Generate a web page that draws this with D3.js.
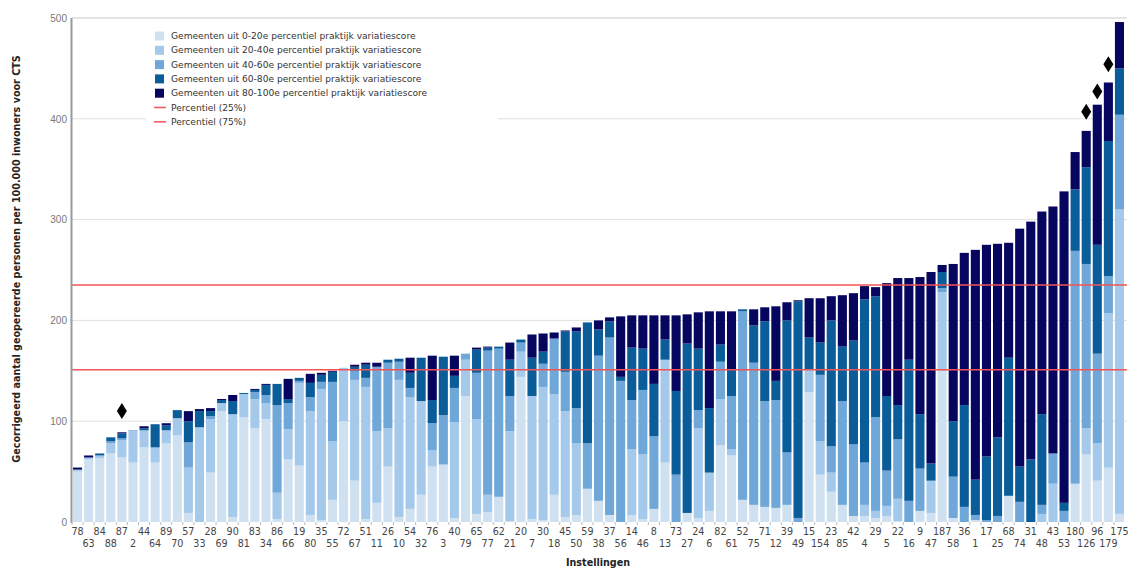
<!DOCTYPE html>
<html>
<head>
<meta charset="utf-8">
<script src="https://cdn.jsdelivr.net/npm/d3@7"></script>
<style>
    body { margin: 0; background: #fff; }
    svg { font-family: "DejaVu Sans", Verdana, sans-serif; }
    .tick text { fill: #777; font-size: 10px; }
    .xlab { fill: #444; font-size: 9.6px; text-anchor: middle; }
    .legend text { fill: #333; font-size: 9.1px; }
    .title { font-weight: bold; fill: #222; font-size: 9.6px; }
</style>
</head>
<body>
<div id="chart"></div>
<script>
// institution ids, in plotted order
let LABELS = [78,63,84,88,87,2,44,64,89,70,57,33,28,69,90,81,83,34,86,66,
    19,80,35,55,72,67,51,11,26,10,54,32,76,3,40,79,65,77,62,21,
    20,7,30,18,45,50,59,38,37,56,14,46,8,13,73,27,24,6,82,61,
    52,75,71,12,39,49,15,154,23,85,42,4,29,5,22,16,9,47,187,58,
    36,1,17,25,68,74,31,48,43,53,180,126,96,179,175];

// contribution per group of municipalities (0-20e ... 80-100e percentile)
let P0_20 = [50,62,63,68,64,59,74,59,78,86,9,0,49,110,5,104,93,102,3,62,
    56,7,2,22,100,41,3,19,55,5,13,27,55,57,4,125,8,10,25,1,
    144,3,2,27,5,7,33,21,7,0,7,3,13,59,0,9,4,11,76,66,
    22,17,15,14,17,0,129,47,30,17,6,6,4,6,1,0,11,9,150,4,
    0,2,0,0,26,0,0,0,0,0,38,67,41,54,8];
let P20_40 = [2,2,3,10,17,31,17,15,13,17,45,94,53,8,102,23,29,16,26,30,
    82,103,130,58,53,100,131,71,38,136,111,93,16,0,95,36,94,17,0,89,
    25,122,132,100,105,71,0,0,0,0,65,64,0,102,0,0,89,38,46,6,
    0,0,0,0,0,0,22,33,19,0,0,11,7,10,22,0,0,32,78,0,
    0,0,0,0,0,0,0,8,38,0,0,26,37,153,302];
let P40_60 = [0,0,0,2,2,1,0,0,0,0,25,0,3,0,0,0,7,8,87,26,
    2,14,7,59,0,9,9,64,65,18,9,0,27,49,34,6,46,143,147,35,
    9,0,23,55,39,35,45,144,176,140,49,64,72,0,47,0,18,0,37,53,
    187,141,105,107,52,4,0,66,26,103,71,42,93,35,59,21,42,0,4,41,
    15,5,2,6,0,20,0,9,30,11,231,163,89,37,94];
let P60_80 = [0,0,2,4,5,0,2,23,5,8,21,16,5,3,13,1,2,10,21,4,
    3,14,7,10,0,4,13,0,3,3,15,43,23,58,12,0,23,3,2,36,
    3,38,12,0,40,76,120,26,16,4,52,41,52,20,83,168,61,64,17,26,
    2,37,79,19,131,215,32,32,125,54,103,162,120,74,34,140,54,17,16,55,
    101,35,63,78,137,35,62,90,0,8,61,96,108,134,46];
let P80_100 = [2,2,0,0,1,0,2,0,2,0,10,2,3,1,6,0,1,1,0,20,
    0,9,2,1,0,2,2,4,0,0,15,0,44,0,20,0,2,1,0,17,
    0,23,18,6,1,4,0,9,4,60,32,33,68,24,75,29,36,96,33,58,
    0,16,14,74,18,1,39,44,24,51,47,13,9,112,126,81,136,190,7,156,
    151,228,210,192,114,236,236,201,245,309,37,36,139,58,46];

let SERIES = ["Gemeenten uit  0-20e percentiel praktijk variatiescore",
    "Gemeenten uit 20-40e percentiel praktijk variatiescore",
    "Gemeenten uit 40-60e percentiel praktijk variatiescore",
    "Gemeenten uit 60-80e percentiel praktijk variatiescore",
    "Gemeenten uit 80-100e percentiel praktijk variatiescore"];
let COLORS = ["#cfe0f0", "#a4c9ea", "#6fa7d8", "#0b5d9a", "#06065e"];

// percentile reference lines
let PCT_NAMES = ["Percentiel (25%)", "Percentiel (75%)"];
let PCT_VALUES = [151, 235];

// diamond markers above some institutions
let MARK_IDS = [87, 126, 96, 179];
let MARK_VALUES = [110, 407, 427, 454];

let Y_TICKS = [0, 100, 200, 300, 400, 500];

let margin = {top: 18, right: 4, bottom: 49, left: 72},
    width = 1129 - margin.left - margin.right,
    height = 569 - margin.top - margin.bottom;

let svg = d3.select("#chart").append("svg")
    .attr("width", 1129)
    .attr("height", 569)
    .append("g")
    .attr("transform", "translate(" + margin.left + "," + margin.top + ")");

let rows = LABELS.map(function (d, i) {
    return {id: d, v: [P0_20[i], P20_40[i], P40_60[i], P60_80[i], P80_100[i]]};
});

let x = d3.scaleBand().domain(LABELS).range([0, width]).paddingInner(0.18).paddingOuter(0.09);
let y = d3.scaleLinear().domain([0, 500]).range([height + 2, 0]);

// gridlines
svg.append("g").selectAll("line")
    .data(Y_TICKS.slice(1))
    .enter().append("line")
    .attr("x1", 0).attr("x2", width + 2)
    .attr("y1", (d) => y(d)).attr("y2", (d) => y(d))
    .attr("stroke", (d) => d == 500 ? "#e4e4e4" : "#e0e0e0")
    .attr("stroke-width", (d) => d == 500 ? 2 : 1);

// stacked bars
let stack = d3.stack().keys([0, 1, 2, 3, 4]).value((d, k) => d.v[k]);
let layers = stack(rows);

svg.append("g").selectAll("g")
    .data(layers)
    .enter().append("g")
    .attr("fill", (d, i) => COLORS[i])
    .selectAll("rect")
    .data((d) => d)
    .enter().append("rect")
    .attr("x", (d) => x(d.data.id))
    .attr("width", x.bandwidth())
    .attr("y", (d) => y(d[1]))
    .attr("height", (d) => y(d[0]) - y(d[1]));

// percentile lines
svg.append("g").selectAll("line")
    .data(PCT_VALUES)
    .enter().append("line")
    .attr("x1", 0).attr("x2", width + 2)
    .attr("y1", (d) => y(d)).attr("y2", (d) => y(d))
    .attr("stroke", "#f25555")
    .attr("stroke-width", 1.5);

// diamonds
svg.append("g").selectAll("path")
    .data(MARK_IDS)
    .enter().append("path")
    .attr("d", "M0,-8L5,0L0,8L-5,0Z")
    .attr("fill", "#000")
    .attr("transform", (d, i) => "translate(" + (x(d) + x.bandwidth() / 2) + "," + y(MARK_VALUES[i]) + ")");

// y axis
let yAxis = svg.append("g")
    .attr("class", "y axis")
    .call(d3.axisLeft(y).tickValues(Y_TICKS).tickSize(0).tickPadding(5));
yAxis.select(".domain").remove();
svg.append("line")
    .attr("x1", -0.5).attr("x2", -0.5)
    .attr("y1", 0).attr("y2", height + 3)
    .attr("stroke", "#9a9a9a").attr("stroke-width", 2);

// small ticks between bars
svg.append("g").selectAll("line")
    .data(LABELS)
    .enter().append("line")
    .attr("x1", (d) => x(d) - x.step() * 0.09).attr("x2", (d) => x(d) - x.step() * 0.09)
    .attr("y1", height + 2).attr("y2", height + 5)
    .attr("stroke", "#bbb");

// x labels, alternating rows
svg.append("g").selectAll("text")
    .data(LABELS)
    .enter().append("text")
    .attr("class", "xlab")
    .attr("x", (d) => x(d) + x.bandwidth() / 2)
    .attr("y", (d, i) => height + (i % 2 ? 27 : 15))
    .text((d) => d);

svg.append("text")
    .attr("class", "title")
    .attr("x", 526)
    .attr("y", height + 46)
    .attr("text-anchor", "middle")
    .text("Instellingen");

svg.append("text")
    .attr("class", "title")
    .attr("transform", "rotate(-90)")
    .attr("x", -(height / 2) + 10)
    .attr("y", -52)
    .attr("text-anchor", "middle")
    .text("Gecorrigeerd aantal geopereerde personen per 100.000 inwoners voor CTS");

// legend
let legend = svg.append("g").attr("class", "legend").attr("transform", "translate(74,9)");
legend.append("rect")
    .attr("x", 0).attr("y", 0)
    .attr("width", 352).attr("height", 102)
    .attr("fill", "#fff");
let items = SERIES.concat(PCT_NAMES);
let entry = legend.selectAll("g.item")
    .data(items)
    .enter().append("g")
    .attr("class", "item")
    .attr("transform", (d, i) => "translate(9," + (9 + i * 14.3) + ")");
entry.filter((d, i) => i < 5).append("rect")
    .attr("x", 0).attr("y", -4.5)
    .attr("width", 9).attr("height", 9)
    .attr("fill", (d, i) => COLORS[i]);
entry.filter((d, i) => i >= 5).append("line")
    .attr("x1", -1).attr("x2", 11)
    .attr("y1", 0).attr("y2", 0)
    .attr("stroke", "#f25555").attr("stroke-width", 1.5);
entry.append("text")
    .attr("x", 16)
    .attr("dy", "0.33em")
    .text((d) => d);
</script>
</body>
</html>
